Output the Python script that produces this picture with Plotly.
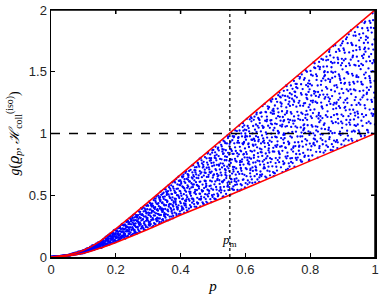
import numpy as np
import plotly.graph_objects as go

# Envelope curves
p_env = [0, 0.05, 0.1, 0.15, 0.2, 0.25, 0.3, 0.4, 0.55, 0.7, 0.85, 1.0]
g_upper = [0, 0.015, 0.055, 0.125, 0.228, 0.335, 0.445, 0.667, 1.0, 1.333, 1.667, 2.0]
g_lower = [0, 0.008, 0.03, 0.07, 0.118, 0.17, 0.225, 0.34, 0.5, 0.667, 0.833, 1.0]

p_m = 0.552
h_ref = 1.0
x_ticks = [0, 0.2, 0.4, 0.6, 0.8, 1]
y_ticks = [0, 0.5, 1, 1.5, 2]
x_max, y_max = 1, 2

# Sample cloud between the envelopes (deterministic scrambled low-discrepancy fill)
PERM = {2: [1, 0], 3: [0, 2, 1], 5: [0, 3, 1, 4, 2]}

def halton(i, b):
    f, r = 1.0, 0.0
    while i > 0:
        f /= b
        r += f * PERM[b][i % b]
        i //= b
    return r

N = 2000
LEAP = 37
ps = np.array([halton(1 + k * LEAP, 2) for k in range(N)])
ts = np.array([halton(1 + k * LEAP, 5) for k in range(N)])
lo = np.interp(ps, p_env, g_lower)
hi = np.interp(ps, p_env, g_upper)
gs = lo + ts * (hi - lo)

fig = go.Figure()
fig.add_trace(go.Scatter(x=ps, y=gs, mode="markers",
                         marker=dict(color="#0000ff", size=2.3, line=dict(width=0)),
                         hoverinfo="skip", showlegend=False))
fig.add_trace(go.Scatter(x=p_env, y=g_upper, mode="lines",
                         line=dict(color="#ff0000", width=1.6, shape="spline", smoothing=0.6),
                         showlegend=False))
fig.add_trace(go.Scatter(x=p_env, y=g_lower, mode="lines",
                         line=dict(color="#ff0000", width=1.6, shape="spline", smoothing=0.6),
                         showlegend=False))
fig.add_trace(go.Scatter(x=[0, 1], y=[h_ref, h_ref], mode="lines",
                         line=dict(color="black", width=1.4, dash="dash"), showlegend=False))
fig.add_trace(go.Scatter(x=[p_m, p_m], y=[0, 2], mode="lines",
                         line=dict(color="black", width=1.2, dash="dot"), showlegend=False))

# top / right frame with mirrored inside ticks (built from the tick lists)
fx, fy = [0, x_max, x_max], [y_max, y_max, 0]
for v in x_ticks[1:-1]:
    fx += [None, v, v]
    fy += [None, y_max, y_max - 0.032]
for v in y_ticks[1:-1]:
    fx += [None, x_max, x_max - 0.012]
    fy += [None, v, v]
fig.add_trace(go.Scatter(x=fx, y=fy, mode="lines", cliponaxis=False,
                         line=dict(color="black", width=1.5), hoverinfo="skip",
                         showlegend=False))

fig.add_annotation(x=p_m, y=0.13, text="<i>p</i><sub>m</sub>", showarrow=False,
                   font=dict(family="Liberation Serif", size=13, color="black"))

axis_common = dict(showgrid=False, zeroline=False, showline=True, linecolor="black",
                   linewidth=1.5, mirror="allticks", ticks="inside", ticklen=4,
                   ticklabeloverflow="allow",
                   tickcolor="black", tickfont=dict(family="Liberation Sans", size=13, color="#262626"))

fig.update_xaxes(range=[0, x_max], tickvals=x_ticks, ticktext=[str(v) for v in x_ticks],
                 title=dict(text="<i>p</i>", font=dict(family="Liberation Serif", size=15, color="black"), standoff=4),
                 **axis_common)
fig.update_yaxes(range=[0, y_max], tickvals=y_ticks, ticktext=[str(v) for v in y_ticks],
                 title=dict(text="<i>g</i>(<span style='font-family:DejaVu Serif'><i>ϱ</i></span><sub><i>p</i></sub>, <i>ℋ</i><sub>coll</sub><sup>(iso)</sup>)",
                            font=dict(family="Liberation Serif", size=14, color="black"), standoff=6),
                 **axis_common)

fig.update_layout(width=382, height=298, margin=dict(l=51, r=3, t=7, b=41),
                  plot_bgcolor="white", paper_bgcolor="white")

fig.write_html("out.html", config={"displayModeBar": False, "staticPlot": True},
               post_script="document.body.style.margin='0';")
